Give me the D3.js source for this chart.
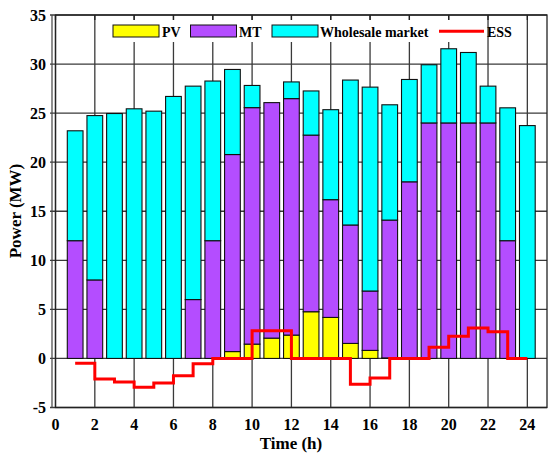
<!DOCTYPE html>
<html>
<head>
<meta charset="utf-8">
<script src="https://cdn.jsdelivr.net/npm/d3@7"></script>
<style>
  body { margin: 0; background: #fff; }
  text { font-family: "Liberation Serif", "Times New Roman", serif; font-weight: bold; }
</style>
</head>
<body>
<div id="chart"></div>
<script>
// hours 1..24
var hours = d3.range(1, 25);
var pv        = [0, 0, 0, 0, 0, 0, 0, 0, 0.7, 1.46, 2.07, 2.38, 4.76, 4.18, 1.53, 0.82, 0.05, 0, 0, 0, 0, 0, 0, 0];
var mt        = [12, 8, 0, 0, 0, 0, 6, 12, 20.08, 24.1, 24.0, 24.1, 18.0, 12.0, 12.07, 6.05, 14.05, 18, 24, 24, 24, 24, 12, 0];
var wholesale = [11.2, 16.75, 24.96, 25.44, 25.2, 26.7, 21.75, 16.27, 8.67, 2.26, 0, 1.7, 4.5, 9.17, 14.77, 20.78, 11.75, 10.43, 5.93, 7.56, 7.18, 3.75, 13.54, 23.73];
// energy storage, step after each hour (last point closes the line at 24)
var essX = d3.range(1, 25);
var ess  = [-0.48, -2.1, -2.4, -2.93, -2.5, -1.77, -0.55, 0, 0, 2.82, 2.82, 0, 0, 0, -2.62, -2.0, 0, 0, 1.15, 2.27, 3.09, 2.72, 0, 0];
var xTicks = d3.range(0, 25, 2);
var yTicks = d3.range(-5, 36, 5);
var seriesNames = ["PV", "MT", "Wholesale market"];
var colors = ["#ffff00", "#b44dff", "#00ffff"];

var W = 548, H = 453;
var pLeft = 55.5, pRight = 547, pTop = 15, pBottom = 407.5;

var svg = d3.select("#chart").append("svg")
    .attr("width", W)
    .attr("height", H);

var x = d3.scaleLinear().domain([0, 25]).range([pLeft, pRight]);
var y = d3.scaleLinear().domain([-5, 35]).range([pBottom, pTop]);

// grid
var grid = svg.append("g").attr("stroke", "#3a3a3a").attr("stroke-width", 1.3);
grid.selectAll(".gy").data(yTicks).enter().append("line")
    .attr("x1", 50).attr("x2", pRight)
    .attr("y1", function(d) { return y(d); })
    .attr("y2", function(d) { return y(d); });
grid.selectAll(".gx").data(xTicks).enter().append("line")
    .attr("x1", function(d) { return x(d); })
    .attr("x2", function(d) { return x(d); })
    .attr("y1", pTop).attr("y2", pBottom);

// stacked bars
var rows = hours.map(function(h, i) {
    return { hour: h, PV: pv[i], MT: mt[i], "Wholesale market": wholesale[i] };
});
var stack = d3.stack().keys(seriesNames)(rows);
var bw = x(0.8) - x(0);

svg.append("g").selectAll("g")
    .data(stack)
    .enter().append("g")
    .attr("fill", function(d, i) { return colors[i]; })
    .selectAll("rect")
    .data(function(d) { return d.filter(function(p) { return p[1] - p[0] > 0; }); })
    .enter().append("rect")
    .attr("x", function(d) { return x(d.data.hour) - bw / 2; })
    .attr("width", bw)
    .attr("y", function(d) { return y(d[1]); })
    .attr("height", function(d) { return y(d[0]) - y(d[1]); })
    .attr("stroke", "#111")
    .attr("stroke-width", 1.1);

// ESS line
var line = d3.line()
    .x(function(d, i) { return x(essX[i]); })
    .y(function(d) { return y(d); })
    .curve(d3.curveStepAfter);
svg.append("path")
    .datum(ess)
    .attr("d", line)
    .attr("fill", "none")
    .attr("stroke", "#ff0000")
    .attr("stroke-width", 3);

// axes box
svg.append("rect")
    .attr("x", pLeft).attr("y", pTop)
    .attr("width", pRight - pLeft).attr("height", pBottom - pTop)
    .attr("fill", "none").attr("stroke", "#222").attr("stroke-width", 1.3);
svg.append("line")
    .attr("x1", 52).attr("x2", 52).attr("y1", pTop).attr("y2", pBottom)
    .attr("stroke", "#444").attr("stroke-width", 1.2);

// legend (white background hides the grid)
var lg = svg.append("g");
lg.append("rect").attr("x", 100).attr("y", 20).attr("width", 386).attr("height", 22).attr("fill", "#fff");
var legendItems = [
    { name: "PV", sx: 113, sw: 46, tx: 162 },
    { name: "MT", sx: 190.5, sw: 46, tx: 239 },
    { name: "Wholesale market", sx: 272, sw: 46, tx: 320 }
];
legendItems.forEach(function(d, i) {
    lg.append("rect").attr("x", d.sx).attr("y", 25).attr("width", d.sw).attr("height", 12)
        .attr("fill", colors[i]).attr("stroke", "#111").attr("stroke-width", 1);
    lg.append("text").attr("x", d.tx).attr("y", 36.5).attr("font-size", 14).text(d.name);
});
lg.append("line").attr("x1", 439).attr("x2", 484).attr("y1", 31.3).attr("y2", 31.3)
    .attr("stroke", "#ff0000").attr("stroke-width", 3);
lg.append("text").attr("x", 487).attr("y", 36.5).attr("font-size", 14).text("ESS");

// top ticks
svg.append("g").selectAll("line").data(xTicks).enter().append("line")
    .attr("x1", function(d) { return x(d); }).attr("x2", function(d) { return x(d); })
    .attr("y1", pTop).attr("y2", pTop + 5)
    .attr("stroke", "#222").attr("stroke-width", 1.3);

// tick labels
svg.append("g").selectAll("text").data(xTicks).enter().append("text")
    .attr("x", function(d) { return x(d); })
    .attr("y", 430)
    .attr("text-anchor", "middle")
    .attr("font-size", 16)
    .text(function(d) { return d; });
svg.append("g").selectAll("text").data(yTicks).enter().append("text")
    .attr("x", 46)
    .attr("y", function(d) { return y(d) + 5.5; })
    .attr("text-anchor", "end")
    .attr("font-size", 16)
    .text(function(d) { return d; });

// titles
svg.append("text")
    .attr("x", 291).attr("y", 449)
    .attr("text-anchor", "middle").attr("font-size", 17)
    .text("Time (h)");
svg.append("text")
    .attr("transform", "translate(21,211) rotate(-90)")
    .attr("text-anchor", "middle").attr("font-size", 17)
    .text("Power (MW)");
</script>
</body>
</html>
